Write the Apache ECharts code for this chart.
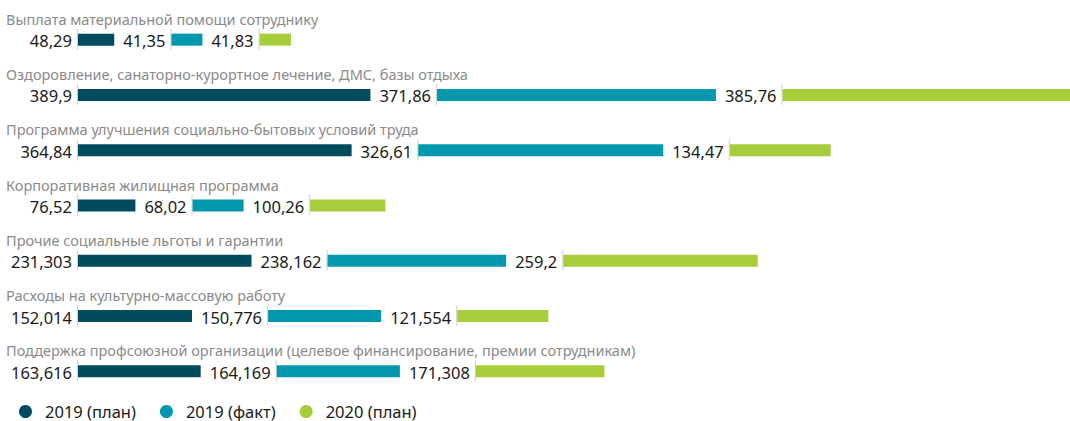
<!DOCTYPE html>
<html>
<head>
<meta charset="utf-8">
<script src="https://cdn.jsdelivr.net/npm/echarts@6/dist/echarts.min.js"></script>
<style>
html,body{margin:0;padding:0;background:#fff;}
#chart{width:1070px;height:421px;}
</style>
</head>
<body>
<div id="chart"></div>
<script>
const categories = [
  'Выплата материальной помощи сотруднику',
  'Оздоровление, санаторно-курортное лечение, ДМС, базы отдыха',
  'Программа улучшения социально-бытовых условий труда',
  'Корпоративная жилищная программа',
  'Прочие социальные льготы и гарантии',
  'Расходы на культурно-массовую работу',
  'Поддержка профсоюзной организации (целевое финансирование, премии сотрудникам)'
];
const seriesNames = ['2019 (план)', '2019 (факт)', '2020 (план)'];
const plan2019 = [48.29, 389.9, 364.84, 76.52, 231.303, 152.014, 163.616];
const fact2019 = [41.35, 371.86, 326.61, 68.02, 238.162, 150.776, 164.169];
const plan2020 = [41.83, 385.76, 134.47, 100.26, 259.2, 121.554, 171.308];

const allValues = [plan2019, fact2019, plan2020];
const colors = ['#024b5e', '#0198ae', '#a7cd3a'];
const FONT_FAMILY = '"Noto Sans", "Open Sans", sans-serif';
const VALUE_FONT = '16.5px ' + FONT_FAMILY;
const TITLE_FONT = '14.5px ' + FONT_FAMILY;

const fmt = v => String(v).replace('.', ',');
const measureCtx = document.createElement('canvas').getContext('2d');
measureCtx.font = VALUE_FONT;
const textW = s => measureCtx.measureText(s).width;

const GAP_BEFORE = 8, GAP_AFTER = 7, BAR_H = 12;

function makeRender(k) {
  return function (params, api) {
    const i = params.dataIndex;
    const base = api.coord([0, i]);
    let x = base[0];
    const y = base[1];
    for (let j = 0; j < k; j++) {
      x += api.size([allValues[j][i], 0])[0] + GAP_BEFORE + textW(fmt(allValues[j + 1][i])) + GAP_AFTER;
    }
    const len = api.size([api.value(0), 0])[0];
    const children = [
      { type: 'line', shape: { x1: x + 0.5, y1: y - 11, x2: x + 0.5, y2: y + 10 },
        style: { stroke: '#cfcfcf', lineWidth: 1 } },
      { type: 'rect', shape: { x: x + 1, y: y - BAR_H / 2, width: len, height: BAR_H },
        style: { fill: colors[k] } },
      { type: 'text', style: { text: fmt(api.value(0)), x: x - GAP_AFTER + 2, y: y + 1,
        align: 'right', verticalAlign: 'middle', font: VALUE_FONT, fill: '#1a1a1a' } }
    ];
    if (k === 0) {
      children.push({ type: 'text', style: { text: categories[i], x: params.coordSys.x - 71, y: y - 21,
        align: 'left', verticalAlign: 'middle', font: TITLE_FONT, fill: '#8a8a8a' } });
    }
    return { type: 'group', children: children };
  };
}

const chart = echarts.init(document.getElementById('chart'), null, { renderer: 'svg' });
chart.setOption({
  animation: false,
  color: colors,
  grid: { left: 77, right: 0, top: 12, bottom: 22, containLabel: false },
  xAxis: { type: 'value', min: 0, max: 1324, show: false },
  yAxis: { type: 'category', inverse: true, data: categories, show: false },
  legend: {
    left: 19, top: 403, padding: 0, icon: 'circle', itemWidth: 13, itemHeight: 13, itemGap: 24,
    formatter: name => '{s|}' + name,
    textStyle: { fontSize: 16.5, color: '#1a1a1a', fontFamily: FONT_FAMILY,
      rich: { s: { width: 8 } } },
    data: seriesNames
  },
  series: allValues.map((vals, k) => ({
    type: 'custom', name: seriesNames[k],
    itemStyle: { color: colors[k] },
    encode: { x: 0, y: 1 },
    data: vals.map((v, i) => [v, i]),
    renderItem: makeRender(k)
  }))
});
</script>
</body>
</html>
